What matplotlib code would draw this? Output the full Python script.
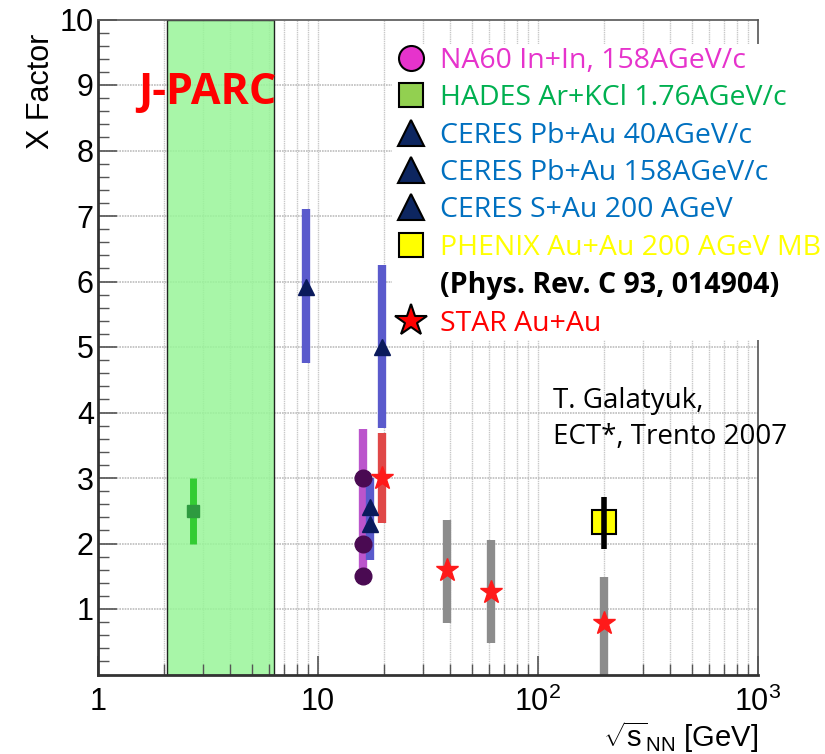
import matplotlib
matplotlib.use("Agg")
import matplotlib.pyplot as plt
from matplotlib.lines import Line2D
import numpy as np

plt.rcParams['font.family'] = ['Liberation Sans', 'DejaVu Sans']
plt.rcParams['mathtext.fontset'] = 'custom'
plt.rcParams['mathtext.rm'] = 'Liberation Sans'
plt.rcParams['mathtext.it'] = 'Liberation Sans'

# ---- data ----
jparc_range = [2.05, 6.3]
jparc_label_x = 3.13

hades_x = [2.7]
hades_y = [2.5]
hades_lo = [2.0]
hades_hi = [3.0]

ceres_x = [8.8, 19.5]
ceres_y = [5.92, 5.0]
ceres_lo = [4.75, 3.76]
ceres_hi = [7.1, 6.25]

na60_x = [16.0, 16.0, 16.0]
na60_y = [3.0, 2.0, 1.5]
na60_bar = [1.5, 3.75]

ceres_sau_x = [17.2, 17.2]
ceres_sau_y = [2.55, 2.3]
ceres_sau_bar = [1.75, 3.0]

star_x = [19.6, 38.6, 61.0, 200.0]
star_y = [3.0, 1.6, 1.26, 0.79]
star_lo = [2.31, 0.79, 0.48, 0.0]
star_hi = [3.69, 2.36, 2.05, 1.49]
star_bar_colors = ['#e04848', '#8c8c8c', '#8c8c8c', '#8c8c8c']

phenix_x = [200.0]
phenix_y = [2.33]
phenix_lo = [1.92]
phenix_hi = [2.71]

legend_labels = ['NA60 In+In, 158AGeV/c', 'HADES Ar+KCl 1.76AGeV/c',
                 'CERES Pb+Au 40AGeV/c', 'CERES Pb+Au 158AGeV/c',
                 'CERES S+Au 200 AGeV', 'PHENIX Au+Au 200 AGeV MB',
                 '(Phys. Rev. C 93, 014904)', 'STAR Au+Au']
legend_colors = ['#e633cc', '#00b050', '#0070c0', '#0070c0', '#0070c0',
                 '#ffff00', '#000000', '#ff0000']

xtick_vals = [1, 10, 100, 1000]
xtick_labels = ['1', '10', '$10^2$', '$10^3$']

# ---- figure ----
fig = plt.figure(figsize=(8.25, 7.54), dpi=100)
ax = fig.add_axes([98/825, 1-674.5/754, 660/825, 655/754])
ax.set_xscale('log')
ax.set_xlim(1, 1000)
ax.set_ylim(0, 10)

# grids
minor_x = [m*10**d for d in range(0, 3) for m in range(2, 10)]
for xv in minor_x + [10, 100]:
    ax.axvline(xv, color='#c8c8c8', lw=1.0, ls=(0, (1, 0.6)), zorder=0.5)
for yv in range(1, 10):
    ax.axhline(yv, color='#bdbdbd', lw=1.2, ls=(0, (1, 0.6)), zorder=0.5)

# J-PARC band
ax.axvspan(jparc_range[0], jparc_range[1], ymin=0, ymax=1, facecolor='#99f599',
           alpha=0.85, edgecolor='black', lw=1.0, zorder=1)
ax.text(jparc_label_x, 8.88, 'J-PARC', color='#ff0000',
        fontsize=31, fontweight='bold', family=['Open Sans', 'DejaVu Sans'],
        ha='center', va='center', zorder=6)

# error bars
ax.vlines(hades_x, hades_lo, hades_hi, colors='#33cc33', lw=5, zorder=2)
ax.vlines(ceres_x, ceres_lo, ceres_hi, colors='#5a5acc', lw=6, zorder=2)
ax.vlines([na60_x[0]], [na60_bar[0]], [na60_bar[1]], colors='#bb55cc', lw=6, zorder=2)
ax.vlines([ceres_sau_x[0]], [ceres_sau_bar[0]], [ceres_sau_bar[1]], colors='#5a5acc', lw=6, zorder=2)
ax.vlines(star_x, star_lo, star_hi, colors=star_bar_colors, lw=6, zorder=2)
ax.vlines(phenix_x, phenix_lo, phenix_hi, colors='black', lw=4, zorder=4)

# markers
ax.plot(hades_x, hades_y, 's', color='#2e9a40', ms=9, zorder=3)
ax.plot(ceres_x, ceres_y, '^', color='#0a1a5c', ms=12, zorder=3)
ax.plot(na60_x, na60_y, 'o', color='#4a0a52', ms=12, zorder=3)
ax.plot(ceres_sau_x, ceres_sau_y, '^', color='#0a1a5c', ms=12, zorder=3)
ax.plot(star_x, star_y, '*', color='#ff1a1a', ms=17, zorder=3)
ax.plot(phenix_x, phenix_y, 's', mfc='#ffff00', mec='black', mew=1.5, ms=17, zorder=3)

# ticks
ax.set_xticks(xtick_vals)
ax.set_xticklabels(xtick_labels)
ax.xaxis.set_minor_locator(matplotlib.ticker.FixedLocator(minor_x))
ax.xaxis.set_minor_formatter(matplotlib.ticker.NullFormatter())
ax.set_yticks(range(1, 11))
ax.yaxis.set_minor_locator(matplotlib.ticker.MultipleLocator(0.2))
ax.tick_params(axis='both', which='major', direction='in', length=14, width=1.2,
               labelsize=22, color='#555555')
ax.tick_params(axis='both', which='minor', direction='in', length=8, width=1.0, color='#555555')
ax.tick_params(axis='x', which='major', pad=9)
ax.tick_params(axis='y', which='major', pad=3)
for s in ['left', 'bottom']:
    ax.spines[s].set_linewidth(2)
    ax.spines[s].set_color('#333333')
for s in ['top', 'right']:
    ax.spines[s].set_linewidth(1.2)
    ax.spines[s].set_color('#555555')

ax.set_ylabel('X Factor', fontsize=22, loc='top')
ax.yaxis.set_label_coords(-0.064, 0.978)
ax.set_xlabel(r'$\sqrt{s}_{NN}$ [GeV]', fontsize=21, loc='right')
ax.xaxis.set_label_coords(1.0, -0.068)

# annotation
ax.text(553/825, 1-419/754, 'T. Galatyuk,\nECT*, Trento 2007', transform=fig.transFigure,
        fontsize=20, family=['Open Sans', 'DejaVu Sans'], va='center', ha='left',
        linespacing=1.36)

# legend
handles = [
    Line2D([], [], ls='none', marker='o', mfc='#e633cc', mec='black', mew=1.5, ms=18),
    Line2D([], [], ls='none', marker='s', mfc='#92d050', mec='black', mew=1.5, ms=17),
    Line2D([], [], ls='none', marker='^', mfc='#0d2660', mec='black', mew=1.5, ms=19),
    Line2D([], [], ls='none', marker='^', mfc='#0d2660', mec='black', mew=1.5, ms=19),
    Line2D([], [], ls='none', marker='^', mfc='#0d2660', mec='black', mew=1.5, ms=19),
    Line2D([], [], ls='none', marker='s', mfc='#ffff00', mec='black', mew=1.5, ms=17),
    Line2D([], [], ls='none', marker=None),
    Line2D([], [], ls='none', marker='*', mfc='#ff0000', mec='black', mew=1.5, ms=24),
]
leg = fig.legend(handles, legend_labels, loc='upper left',
                 bbox_to_anchor=(392/825, 1-44/754), frameon=True,
                 prop={'family': ['Open Sans', 'DejaVu Sans'], 'size': 20.5},
                 labelspacing=0.33, handlelength=1.1, handletextpad=0.5,
                 borderpad=0.1, borderaxespad=0)
leg.get_frame().set_facecolor('white')
leg.get_frame().set_edgecolor('none')
leg.get_frame().set_alpha(1.0)
for t, c in zip(leg.get_texts(), legend_colors):
    t.set_color(c)
leg.get_texts()[6].set_fontweight('bold')
leg.set_zorder(10)

fig.savefig('out.png', dpi=100)
